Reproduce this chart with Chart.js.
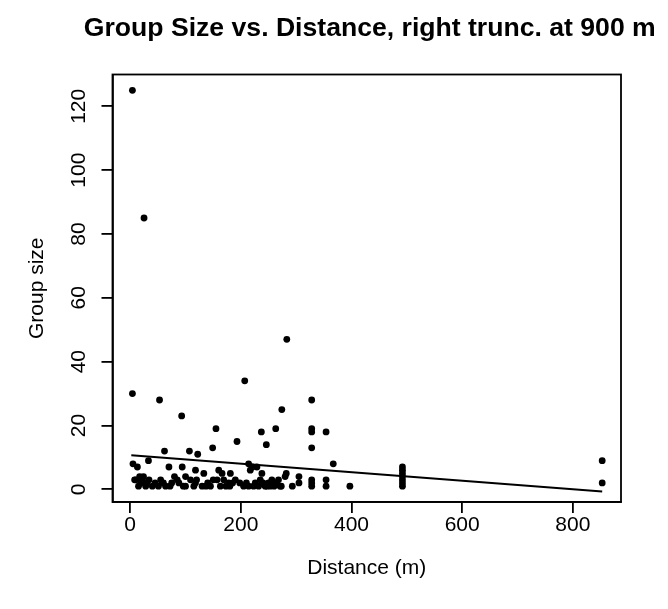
<!DOCTYPE html>
<html><head><meta charset="utf-8">
<script src="https://cdn.jsdelivr.net/npm/chart.js@4.4.0/dist/chart.umd.min.js"></script>
<style>html,body{margin:0;padding:0;background:#fff}</style>
</head><body>
<canvas id="c" width="668" height="609" style="width:668px;height:609px;display:block"></canvas>
<script>
const distance = [
  4, 25, 283, 207, 4, 53, 328, 274, 93, 155, 263, 328, 328, 237, 354, 193, 246, 149, 328, 62,
  107, 122, 33, 853, 5, 214, 367, 13, 70, 94, 221, 229, 492, 118, 217, 160, 492, 133, 238, 166,
  282, 181, 492, 305, 80, 100, 492, 24, 280, 17,
  10, 22, 34, 55, 19, 28, 40, 64, 72, 85, 109, 100, 118, 130, 157, 163, 169, 173, 190, 205,
  214, 223, 232, 247, 256, 268, 271, 305, 293, 328, 328, 328, 354, 354, 397, 492, 492, 492, 853, 8,
  15, 45, 75, 88, 140, 145, 178, 198, 226, 240, 260, 150, 115, 60, 120, 180, 235, 250, 137, 30,
  51, 96, 185, 210, 263, 273, 259, 253, 244, 238
];
const groupSize = [
  125, 85, 47, 34, 30, 28, 28, 25, 23, 19, 19, 19, 18, 18, 18, 15, 14, 13, 13, 12,
  12, 11, 9, 9, 8, 8, 8, 7, 7, 7, 7, 7, 7, 6, 6, 6, 6, 5, 5, 5,
  5, 5, 5, 4, 4, 4, 4, 4, 4, 4,
  3, 3, 3, 3, 2, 1, 1, 1, 1, 3, 3, 1, 2, 1, 3, 1, 3, 1, 3, 1,
  1, 1, 1, 1, 3, 3, 1, 2, 1, 3, 2, 1, 3, 1, 1, 3, 2, 1, 2, 3,
  1, 2, 2, 2, 2, 1, 2, 2, 2, 2, 1, 3, 1, 2, 3, 1, 3, 2, 1, 2,
  1, 1, 2, 2, 2, 1, 2, 1, 1, 2
];
const fitDistance = [2, 853];
const fitGroupSize = [10.67, -0.69];
const xTickValues = [0, 200, 400, 600, 800];
const yTickValues = [0, 20, 40, 60, 80, 100, 120];

const points = distance.map((d, i) => ({x: d, y: groupSize[i]}));
const fitLine = fitDistance.map((d, i) => ({x: d, y: fitGroupSize[i]}));
const FONT = "'Liberation Sans', Arial, Helvetica, sans-serif";

const framePlugin = {
  id: 'frame',
  afterLayout(chart) {
    const a = chart.chartArea;
    const t = chart.titleBlock;
    if (t) {
      const cx = (a.left + a.right) / 2 + 3;
      t.left = cx - 320;
      t.right = cx + 320;
    }
  },
  afterDraw(chart) {
    const {ctx, chartArea: a} = chart;
    ctx.save();
    ctx.strokeStyle = '#000';
    ctx.lineWidth = 1.8;
    ctx.strokeRect(a.left, a.top, a.right - a.left, a.bottom - a.top);
    ctx.restore();
  }
};

new Chart(document.getElementById('c'), {
  type: 'scatter',
  data: {
    datasets: [
      {
        data: points,
        pointRadius: 3.4,
        pointBackgroundColor: '#000',
        pointBorderWidth: 0,
        pointBorderColor: '#000'
      },
      {
        data: fitLine,
        showLine: true,
        borderColor: '#000',
        borderWidth: 2,
        pointRadius: 0
      }
    ]
  },
  options: {
    responsive: false,
    animation: false,
    events: [],
    devicePixelRatio: 1,
    layout: {padding: {left: 0, right: 47, top: 0, bottom: 0}},
    plugins: {
      legend: {display: false},
      tooltip: {enabled: false},
      title: {
        display: true,
        text: 'Group Size vs. Distance, right trunc. at 900 m',
        color: '#000',
        font: {family: FONT, size: 26.6, weight: 'bold'},
        padding: {top: 12.5, bottom: 30.08}
      }
    },
    scales: {
      x: {
        type: 'linear',
        min: -32,
        max: 887,
        afterBuildTicks: s => { s.ticks = xTickValues.map(v => ({value: v})); },
        afterFit: s => { s.height = 107; },
        grid: {drawOnChartArea: false, drawTicks: true, tickLength: 11, color: '#000', lineWidth: 1.8},
        border: {display: true, color: '#000', width: 1.8},
        ticks: {color: '#000', font: {family: FONT, size: 21}, padding: 0, maxRotation: 0, autoSkip: false},
        title: {display: true, text: 'Distance (m)', color: '#000', font: {family: FONT, size: 21}, padding: {top: 0, bottom: 28}}
      },
      y: {
        type: 'linear',
        min: -3.96,
        max: 129.96,
        afterBuildTicks: s => { s.ticks = yTickValues.map(v => ({value: v})); },
        afterFit: s => { s.width = 112.5; },
        grid: {drawOnChartArea: false, drawTicks: true, tickLength: 11, color: '#000', lineWidth: 1.8},
        border: {display: true, color: '#000', width: 1.8},
        ticks: {color: '#000', font: {family: FONT, size: 21}, padding: 5, minRotation: 90, maxRotation: 90, crossAlign: 'center', autoSkip: false},
        title: {display: true, text: 'Group size', color: '#000', font: {family: FONT, size: 21}, padding: {top: 24.5, bottom: 0}}
      }
    }
  },
  plugins: [framePlugin]
});
</script>
</body></html>
